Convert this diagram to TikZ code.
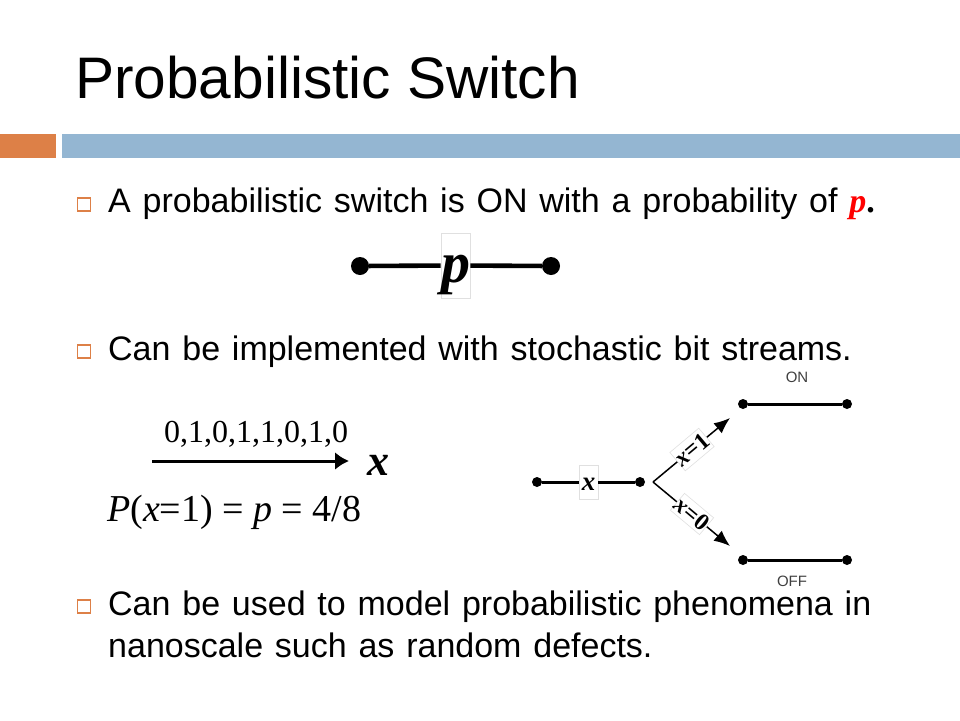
\documentclass[tikz,border=0pt]{standalone}
\usepackage{fontspec}
\setmainfont[WordSpace=1.25]{Liberation Sans}
\newfontfamily\titlefont{Liberation Sans}
\newfontfamily\serifx{Liberation Serif}
\usetikzlibrary{arrows.meta}
\definecolor{barorange}{HTML}{DD8047}
\definecolor{barblue}{HTML}{94B6D2}
\newcommand{\bodyfont}{\fontsize{34}{40}\selectfont}
\tikzset{
  x=1pt,y=-1pt,
  bodytext/.style={anchor=base west,inner sep=0pt,font=\bodyfont},
  serifbig/.style={anchor=base,inner sep=0pt},
  bullet/.style={draw=barorange,line width=1.3pt,minimum size=13pt,inner sep=0pt,fill=white},
  bigdot/.style={circle,fill=black,inner sep=0pt,minimum size=18pt},
  smalldot/.style={circle,fill=black,inner sep=0pt,minimum size=10pt},
  labelbox/.style={draw=black!12,line width=0.6pt,fill=white,inner sep=0pt},
  wire/.style={line width=3pt,draw=black},
  thinwire/.style={line width=1.5pt,draw=black,-{Latex[length=16pt,width=13pt]}},
  captiontext/.style={inner sep=0pt,font=\titlefont\fontsize{15}{18}\selectfont,text=black!75},
}
\begin{document}
\begin{tikzpicture}
\useasboundingbox (0,0) rectangle (960,720);
\fill[white] (0,0) rectangle (960,720);
\node[anchor=base west,inner sep=0pt,font=\titlefont\fontsize{58.6}{70}\selectfont] (title) at (75,98) {Probabilistic Switch};
\node[fill=barorange,minimum width=56pt,minimum height=24pt,inner sep=0pt,anchor=north west] (barA) at (0,134) {};
\node[fill=barblue,minimum width=898pt,minimum height=24pt,inner sep=0pt,anchor=north west] (barB) at (62,134) {};

\node[bullet] (b1) at (84,204.5) {};
\node[bodytext] (t1) at (108,212) {A probabilistic switch is ON with a probability of {\serifx\bfseries\itshape\color{red}p}{\serifx\bfseries .}};
\node[bullet] (b2) at (84,351.5) {};
\node[bodytext] (t2) at (108,360) {Can be implemented with stochastic bit streams.};
\node[bullet] (b3) at (84,606.5) {};
\node[bodytext] (t3) at (108,615) {Can be used to model probabilistic phenomena in};
\node[bodytext] (t4) at (108,657) {nanoscale such as random defects.};

% main switch
\node[bigdot] (pa) at (360,266) {};
\node[bigdot] (pb) at (551,266) {};
\node[labelbox,minimum width=25pt,text height=49pt,text depth=16pt,font=\serifx\bfseries\itshape\fontsize{58}{60}\selectfont] (pl) at (455.5,265.5) {p};
\draw[wire,line width=4.6pt] (pa) -- (pl);
\draw[wire,line width=4.6pt] (pl) -- (pb);

% bit stream
\coordinate (sa) at (152,461);
\node[anchor=base,inner sep=0pt,font=\serifx\bfseries\itshape\fontsize{44}{48}\selectfont] (xl) at (378,475) {x};
\coordinate (sb) at (349,461);
\draw[line width=3pt,-{Latex[length=14pt,width=18pt]}] (sa) -- (sb);
\node[serifbig,font=\serifx\fontsize{32}{38}\selectfont] (bits) at (256,442) {0,1,0,1,1,0,1,0};
\node[serifbig,anchor=base west,font=\serifx\fontsize{38}{44}\selectfont] (prob) at (107,521) {\textit{P}(\textit{x}=1) = \textit{p} = 4/8};

% right diagram
\node[smalldot] (xa) at (537,482) {};
\node[smalldot] (xb) at (640,482) {};
\node[labelbox,minimum width=19pt,text height=25pt,text depth=9pt,font=\serifx\bfseries\itshape\fontsize{27}{30}\selectfont] (xm) at (588.5,482) {x};
\draw[wire] (xa) -- (xm);
\draw[wire] (xm) -- (xb);
\coordinate (jn) at (653,482);
\coordinate (up) at (730,418);
\coordinate (dn) at (730,546);
\node[smalldot] (ona) at (743,404) {};
\node[smalldot] (onb) at (847,404) {};
\node[smalldot] (ofa) at (743,560) {};
\node[smalldot] (ofb) at (847,560) {};
\draw[wire] (ona) -- (onb);
\draw[wire] (ofa) -- (ofb);
\draw[thinwire] (jn) -- (up);
\draw[thinwire] (jn) -- (dn);
\node[labelbox,rotate=40,minimum width=36pt,minimum height=24pt,font=\serifx\bfseries\fontsize{24}{28}\selectfont] (x1) at (692,449.5) {\textit{x}=1};
\node[labelbox,rotate=-40,minimum width=38pt,minimum height=22pt,font=\serifx\bfseries\fontsize{24}{28}\selectfont] (x0) at (692,514) {\textit{x}=0};
\node[captiontext] (on) at (797,377) {ON};
\node[captiontext] (off) at (792,581) {OFF};
\end{tikzpicture}
\end{document}
